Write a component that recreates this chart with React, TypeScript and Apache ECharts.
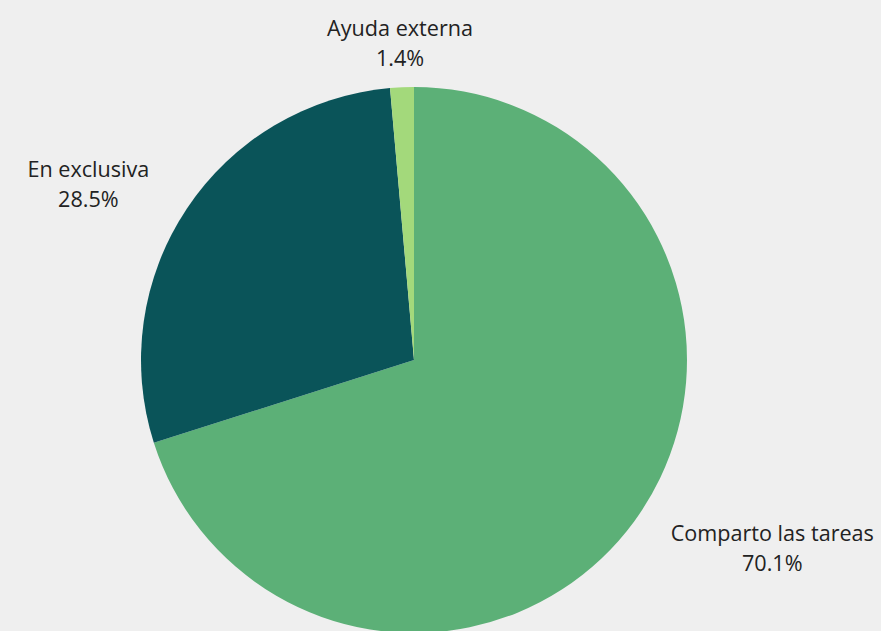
import React, { useEffect, useRef } from "react";
import * as echarts from "echarts";

const categories = ["Comparto las tareas", "En exclusiva", "Ayuda externa"];
const values = [70.1, 28.5, 1.4];
const colors = ["#5cb077", "#0a5459", "#a3d97b"];

export default function App() {
  const ref = useRef<HTMLDivElement>(null);
  useEffect(() => {
    if (!ref.current) return;
    const chart = echarts.init(ref.current, null, { renderer: "svg" });
    chart.setOption({
      animation: false,
      backgroundColor: "#efefef",
      series: [
        {
          type: "pie",
          center: [414, 360],
          radius: 273,
          startAngle: 90,
          clockwise: true,
          avoidLabelOverlap: false,
          data: categories.map((name, i) => ({
            name,
            value: values[i],
            itemStyle: { color: colors[i] },
          })),
          label: {
            show: true,
            position: "outside",
            formatter: (p: any) => `{a|${p.name}}\n{a|${p.value.toFixed(1)}%}`,
            distanceToLabelLine: 0,
            bleedMargin: 0,
            overflow: "none",
            rich: {
              a: {
                align: "center",
                fontFamily: "Open Sans",
                fontSize: 21.6,
                lineHeight: 30,
                color: "#222222",
              },
            },
          },
          labelLine: { show: false, length: 45, length2: 0 },
          labelLayout: (p: any) => {
            if (p.dataIndex === 2) {
              const r = p.labelRect;
              return { x: r.x + r.width, align: "center" };
            }
            return {};
          },
        },
      ],
    });
    return () => chart.dispose();
  }, []);
  return (
    <div
      ref={ref}
      style={{ position: "fixed", left: 0, top: 0, width: 881, height: 631 }}
    />
  );
}
